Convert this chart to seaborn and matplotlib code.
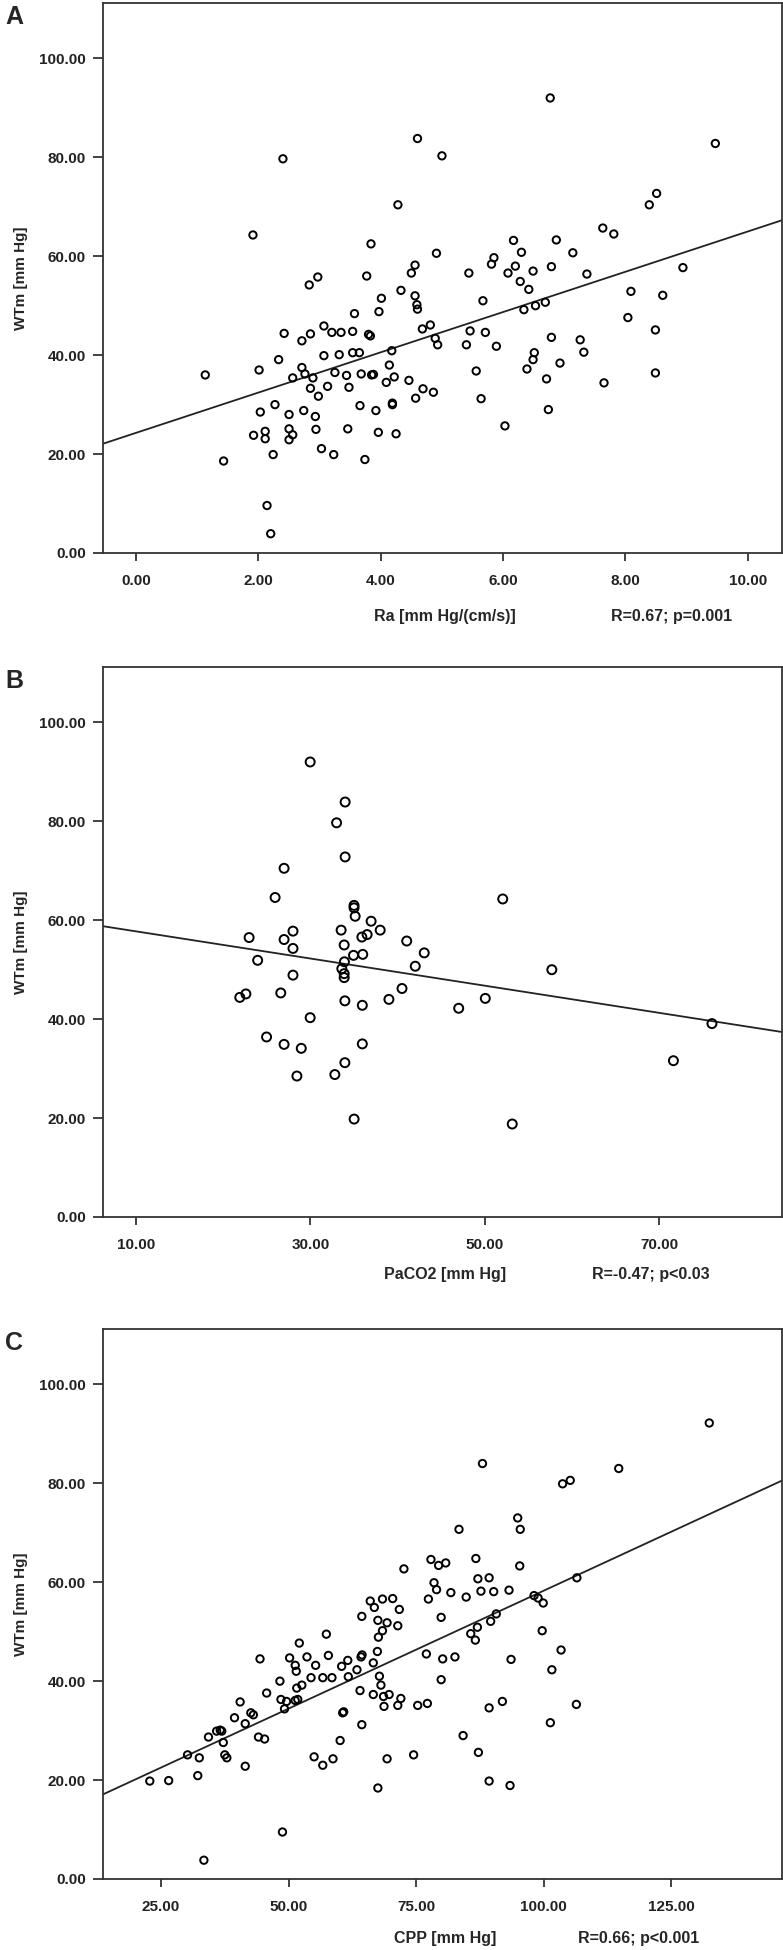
"""
Three scatter panels: WTm against Ra, PaCO2 and CPP, each with its regression line.
"""

import matplotlib
matplotlib.use("Agg")
import matplotlib.pyplot as plt
from matplotlib.ticker import FormatStrFormatter
import seaborn as sns

# ---- panel A: Ra ----
ra_x = [6.77, 4.60, 2.40, 5.00, 9.47, 4.28, 8.39, 8.51, 1.91, 3.84, 6.17, 6.87, 6.30, 7.14,
        7.63, 7.81, 4.91, 5.85, 5.81, 4.56, 6.20, 6.79, 8.94, 2.97, 2.83, 3.77, 4.50, 5.44,
        6.08, 6.49, 7.37, 6.28, 6.42, 4.33, 8.09, 8.61, 4.01, 4.56, 4.59, 4.60, 5.67, 6.69,
        6.53, 6.34, 3.97, 3.57, 8.04, 4.81, 4.68, 3.07, 3.20, 3.35, 3.54, 3.80, 3.83, 2.42,
        2.85, 2.71, 5.46, 5.71, 8.49, 4.89, 4.93, 6.79, 7.26, 7.32, 5.40, 5.89, 4.18, 3.54,
        3.65, 3.32, 3.07, 6.51, 6.49, 2.33, 2.71, 4.14, 6.93, 6.39, 5.56, 2.01, 3.25, 8.49,
        1.13, 2.56, 2.76, 2.89, 3.44, 3.68, 3.85, 3.88, 4.22, 4.09, 4.46, 6.71, 7.65, 2.85,
        3.13, 3.48, 4.69, 4.86, 2.98, 4.57, 5.64, 2.27, 3.66, 4.19, 4.19, 2.03, 2.50, 2.74,
        3.92, 6.74, 2.93, 6.03, 1.92, 2.11, 2.11, 2.50, 2.50, 2.56, 2.94, 3.46, 3.96, 4.25,
        3.03, 3.23, 2.24, 1.43, 3.74, 2.14, 2.20]
ra_y = [92.0, 83.8, 79.7, 80.3, 82.8, 70.4, 70.4, 72.7, 64.3, 62.5, 63.2, 63.3, 60.8, 60.7,
        65.7, 64.5, 60.6, 59.7, 58.4, 58.2, 58.0, 57.9, 57.7, 55.8, 54.2, 56.0, 56.6, 56.6,
        56.6, 57.0, 56.4, 54.9, 53.3, 53.1, 52.9, 52.1, 51.5, 52.0, 50.2, 49.3, 51.0, 50.7,
        50.0, 49.2, 48.8, 48.4, 47.6, 46.1, 45.3, 45.9, 44.6, 44.6, 44.8, 44.2, 43.9, 44.4,
        44.3, 42.9, 44.9, 44.6, 45.1, 43.4, 42.1, 43.6, 43.1, 40.6, 42.1, 41.8, 40.9, 40.5,
        40.5, 40.1, 39.9, 40.5, 39.1, 39.1, 37.5, 38.0, 38.4, 37.2, 36.8, 37.0, 36.5, 36.4,
        36.0, 35.4, 36.2, 35.4, 35.9, 36.2, 36.0, 36.1, 35.6, 34.5, 34.9, 35.2, 34.4, 33.3,
        33.7, 33.5, 33.2, 32.5, 31.7, 31.3, 31.2, 30.0, 29.8, 30.0, 30.3, 28.5, 28.0, 28.8,
        28.8, 29.0, 27.6, 25.7, 23.8, 24.6, 23.1, 25.1, 22.9, 23.9, 25.0, 25.1, 24.4, 24.1,
        21.1, 19.9, 19.9, 18.6, 18.9, 9.6, 3.9]
ra_fit = (24.3, 4.07)  # intercept, slope
ra_xticks = [0, 2, 4, 6, 8, 10]

# ---- panel B: PaCO2 ----
paco2_x = [29.97, 33.98, 33.0, 33.98, 26.98, 25.95, 52.05, 35.0, 35.0, 35.13, 36.96, 38.0,
           33.52, 28.0, 22.97, 26.98, 36.5, 35.9, 28.0, 33.87, 41.04, 43.05, 34.94, 36.0,
           23.95, 33.9, 42.02, 57.68, 33.6, 33.87, 33.87, 28.0, 40.5, 21.9, 22.6, 26.6,
           33.95, 35.95, 39.0, 47.0, 50.05, 29.97, 76.04, 24.97, 26.98, 28.95, 35.95, 33.95,
           28.45, 32.8, 35.01, 53.14, 71.62]
paco2_y = [92.0, 83.9, 79.7, 72.8, 70.5, 64.6, 64.3, 63.0, 62.5, 60.8, 59.8, 58.0,
           58.0, 57.8, 56.5, 56.1, 57.1, 56.6, 54.3, 55.0, 55.8, 53.4, 52.9, 53.1,
           51.9, 51.6, 50.7, 50.0, 50.2, 49.2, 48.4, 48.9, 46.2, 44.4, 45.1, 45.3,
           43.7, 42.8, 44.0, 42.2, 44.2, 40.3, 39.1, 36.4, 34.9, 34.1, 35.0, 31.2,
           28.5, 28.8, 19.8, 18.8, 31.6]
paco2_fit = (60.5, -0.2747)
paco2_xticks = [10, 30, 50, 70]

# ---- panel C: CPP ----
cpp_x = [132.45, 88.0, 114.7, 103.7, 105.2, 94.9, 95.4, 83.4, 77.9, 79.4, 80.8, 86.7, 95.3,
         72.6, 78.5, 79.0, 87.1, 89.3, 106.5, 77.4, 81.8, 84.8, 87.7, 90.2, 93.2, 98.1, 98.9,
         99.9, 66.0, 66.8, 68.4, 70.4, 71.7, 64.35, 79.9, 67.5, 69.3, 71.4, 68.4, 67.6, 90.7,
         89.6, 87.0, 85.7, 86.6, 99.7, 57.4, 52.1, 44.4, 50.2, 51.3, 51.5, 53.6, 55.3, 57.8,
         48.3, 45.7, 40.5, 54.4, 56.7, 58.5, 52.6, 51.6, 48.5, 49.6, 51.3, 51.8, 49.2, 60.4,
         61.6, 61.7, 63.4, 64.2, 64.4, 66.6, 67.4, 67.8, 68.1, 64.0, 66.6, 68.6, 69.7, 68.7,
         71.4, 72.0, 75.3, 77.2, 77.0, 80.2, 82.6, 79.9, 93.6, 89.3, 91.9, 84.2, 87.2, 74.5,
         64.35, 60.1, 60.6, 60.8, 39.4, 41.5, 42.6, 43.1, 37.2, 34.3, 35.9, 36.6, 36.9, 44.1,
         45.3, 30.2, 32.5, 37.5, 37.9, 55.0, 58.7, 69.3, 22.8, 26.5, 32.2, 41.5, 56.7, 48.8,
         33.4, 67.5, 89.3, 93.4, 101.6, 103.4, 101.3, 106.4]
cpp_y = [92.2, 84.0, 83.0, 79.9, 80.6, 73.0, 70.7, 70.7, 64.6, 63.4, 63.9, 64.8, 63.3,
         62.7, 59.9, 58.5, 60.7, 60.9, 60.9, 56.6, 57.9, 57.0, 58.2, 58.1, 58.4, 57.3, 56.8,
         55.8, 56.2, 54.9, 56.6, 56.7, 54.5, 53.1, 52.9, 52.3, 51.8, 51.2, 50.2, 48.9, 53.6,
         52.1, 50.9, 49.6, 48.3, 50.2, 49.5, 47.7, 44.5, 44.7, 43.2, 42.0, 44.9, 43.2, 45.2,
         40.0, 37.6, 35.8, 40.7, 40.7, 40.7, 39.2, 38.6, 36.3, 35.9, 36.1, 36.3, 34.4, 43.0,
         44.2, 40.9, 42.3, 44.9, 45.3, 43.7, 46.0, 41.0, 39.2, 38.1, 37.3, 36.9, 37.3, 34.9,
         35.1, 36.5, 35.1, 35.5, 45.5, 44.5, 44.9, 40.3, 44.4, 34.6, 35.9, 29.0, 25.6, 25.1,
         31.2, 28.0, 33.6, 33.8, 32.6, 31.4, 33.6, 33.2, 27.6, 28.7, 29.9, 30.1, 29.9, 28.7,
         28.3, 25.1, 24.5, 25.1, 24.5, 24.7, 24.3, 24.3, 19.8, 19.9, 20.9, 22.8, 23.0, 9.5,
         3.8, 18.4, 19.8, 18.9, 42.3, 46.3, 31.6, 35.3]
cpp_fit = (10.61, 0.4768)
cpp_xticks = [25, 50, 75, 100, 125]

y_ticks = [0, 20, 40, 60, 80, 100]
y_label = "WTm [mm Hg]"

panels = [
    dict(letter="A", x=ra_x, y=ra_y, fit=ra_fit, xticks=ra_xticks, xlim=(-0.55, 10.56),
         xlabel="Ra [mm Hg/(cm/s)]", stat="R=0.67; p=0.001", size=28,
         top=3, bottom=553, lab_y=617, stat_x=672),
    dict(letter="B", x=paco2_x, y=paco2_y, fit=paco2_fit, xticks=paco2_xticks, xlim=(6.16, 84.07),
         xlabel="PaCO2 [mm Hg]", stat="R=-0.47; p<0.03", size=42,
         top=667, bottom=1217, lab_y=1275, stat_x=651),
    dict(letter="C", x=cpp_x, y=cpp_y, fit=cpp_fit, xticks=cpp_xticks, xlim=(13.53, 146.7),
         xlabel="CPP [mm Hg]", stat="R=0.66; p<0.001", size=28,
         top=1329, bottom=1879, lab_y=1938, stat_x=639),
]

sns.set_style("ticks")
plt.rcParams["font.family"] = ["Liberation Sans", "DejaVu Sans"]
plt.rcParams["font.weight"] = "bold"

W, H = 783, 1950
fig = plt.figure(figsize=(W / 100, H / 100), dpi=100)
fig.patch.set_facecolor("white")

left_px, right_px = 102.5, 782

for p in panels:
    ax = fig.add_axes([left_px / W, 1 - p["bottom"] / H,
                       (right_px - left_px) / W, (p["bottom"] - p["top"]) / H])
    sns.scatterplot(x=p["x"], y=p["y"], ax=ax, s=p["size"], facecolor="none",
                    edgecolor="black", linewidth=1.4, zorder=3)
    b0, b1 = p["fit"]
    ax.axline((0, b0), slope=b1, color="#222222", lw=1.3, zorder=2)

    ax.set_xlim(*p["xlim"])
    ax.set_ylim(0, 111.2)
    ax.set_xticks(p["xticks"])
    ax.set_yticks(y_ticks)
    ax.xaxis.set_major_formatter(FormatStrFormatter("%.2f"))
    ax.yaxis.set_major_formatter(FormatStrFormatter("%.2f"))
    ax.tick_params(axis="x", direction="out", length=6, width=1.2, pad=9,
                   labelsize=11, colors="#222222")
    ax.tick_params(axis="y", direction="out", length=7, width=1.2, pad=5,
                   labelsize=11, colors="#222222")
    for side in ["left", "right", "top", "bottom"]:
        ax.spines[side].set_visible(True)
        ax.spines[side].set_color("#333333")
        ax.spines[side].set_linewidth(1.3)
    ax.set_xlabel("")
    ax.set_ylabel(y_label, fontsize=11, fontweight="bold", labelpad=8)

    mid = (p["top"] + p["bottom"]) / 2
    fig.text(14 / W, 1 - (p["top"] + 14) / H, p["letter"], fontsize=18,
             fontweight="bold", ha="center", va="center")
    fig.text(445 / W, 1 - p["lab_y"] / H, p["xlabel"], fontsize=11.5,
             fontweight="bold", ha="center", va="center")
    fig.text(p["stat_x"] / W, 1 - p["lab_y"] / H, p["stat"], fontsize=11.5,
             fontweight="bold", ha="center", va="center")

fig.savefig("out.png", dpi=100, facecolor="white")
